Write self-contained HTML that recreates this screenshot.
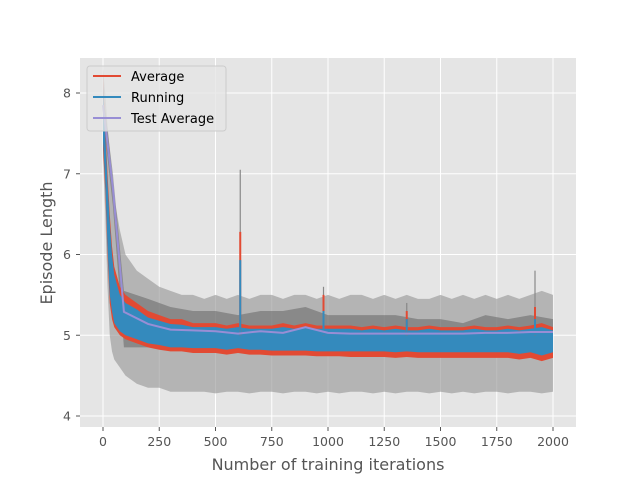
<!DOCTYPE html>
<html><head><meta charset="utf-8"><style>
body{margin:0;background:#fff;font-family:"Liberation Sans","DejaVu Sans",sans-serif}
svg text{font-family:"DejaVu Sans","Liberation Sans",sans-serif}
</style></head><body>
<svg id="chart" width="640" height="480" xmlns="http://www.w3.org/2000/svg">
<rect x="0" y="0" width="640" height="480" fill="#fff"/>
<rect x="80" y="58" width="496" height="369" fill="#e5e5e5"/>
<g id="grid"></g><g id="marks"></g><g id="axes"></g>
<g>
<rect x="87" y="66" width="139" height="65" rx="3" fill="#e5e5e5" fill-opacity="0.8" stroke="#ccc"/>
<line x1="93" y1="76" x2="121" y2="76" stroke="#E24A33" stroke-width="2"/>
<text x="131" y="81" font-size="13" fill="#000">Average</text>
<line x1="93" y1="97" x2="121" y2="97" stroke="#348ABD" stroke-width="2"/>
<text x="131" y="102" font-size="13" fill="#000">Running</text>
<line x1="93" y1="118" x2="121" y2="118" stroke="#988ED5" stroke-width="2"/>
<text x="131" y="123" font-size="13" fill="#000">Test Average</text>
</g>
<text x="328" y="470" font-size="16" fill="#555" text-anchor="middle">Number of training iterations</text>
<text x="52" y="243" font-size="16" fill="#555" text-anchor="middle" transform="rotate(-90 52 243)">Episode Length</text>
</svg>
<script>
const iters=[0,10,20,30,40,50,75,100,150,200,250,300,350,400,450,500,550,600,650,700,750,800,850,900,950,1000,1050,1100,1150,1200,1250,1300,1350,1400,1450,1500,1550,1600,1650,1700,1750,1800,1850,1900,1950,2000];
const greyHigh=[8.3,8.0,7.6,7.3,7.0,6.7,6.3,6.0,5.8,5.7,5.6,5.55,5.5,5.5,5.45,5.5,5.45,5.5,5.45,5.5,5.5,5.45,5.5,5.5,5.45,5.5,5.45,5.5,5.5,5.45,5.5,5.45,5.5,5.45,5.45,5.5,5.45,5.5,5.45,5.5,5.45,5.5,5.45,5.5,5.55,5.5];
const greyLow=[7.2,6.5,5.6,5.0,4.8,4.7,4.6,4.5,4.4,4.35,4.35,4.3,4.3,4.3,4.3,4.28,4.3,4.3,4.28,4.3,4.3,4.28,4.3,4.3,4.28,4.3,4.28,4.3,4.3,4.28,4.3,4.28,4.3,4.3,4.28,4.3,4.28,4.3,4.28,4.3,4.3,4.28,4.3,4.3,4.28,4.3];
const redHigh=[8.2,7.6,7.0,6.5,6.1,5.85,5.6,5.5,5.4,5.3,5.25,5.2,5.2,5.15,5.15,5.15,5.12,5.15,5.12,5.12,5.12,5.15,5.12,5.15,5.12,5.12,5.12,5.12,5.1,5.12,5.1,5.12,5.1,5.1,5.12,5.1,5.1,5.1,5.12,5.1,5.1,5.12,5.1,5.12,5.15,5.1];
const redLow=[7.3,6.8,6.0,5.4,5.2,5.1,5.0,4.95,4.9,4.85,4.82,4.8,4.8,4.78,4.78,4.78,4.76,4.78,4.76,4.76,4.75,4.75,4.75,4.75,4.74,4.74,4.74,4.73,4.73,4.73,4.73,4.72,4.73,4.72,4.72,4.72,4.72,4.72,4.72,4.72,4.72,4.72,4.7,4.72,4.68,4.72];
const blueHigh=[8.1,7.5,6.9,6.4,6.0,5.75,5.5,5.4,5.32,5.22,5.18,5.14,5.13,5.1,5.1,5.1,5.08,5.1,5.08,5.08,5.08,5.1,5.08,5.1,5.08,5.08,5.08,5.08,5.06,5.08,5.06,5.08,5.06,5.06,5.08,5.06,5.06,5.06,5.08,5.06,5.06,5.08,5.06,5.08,5.1,5.06];
const blueLow=[7.4,6.9,6.1,5.5,5.3,5.15,5.05,5.0,4.95,4.9,4.88,4.85,4.85,4.84,4.84,4.84,4.82,4.84,4.82,4.82,4.81,4.81,4.81,4.81,4.8,4.8,4.8,4.8,4.8,4.8,4.8,4.79,4.8,4.79,4.79,4.79,4.79,4.79,4.79,4.79,4.79,4.79,4.77,4.79,4.75,4.79];
const testIters=[0,44,93,200,300,400,500,600,700,800,900,1000,1100,1200,1300,1400,1500,1600,1700,1800,1900,2000];
const testAvg=[7.85,6.82,5.29,5.14,5.07,5.06,5.05,5.02,5.05,5.03,5.1,5.03,5.02,5.02,5.02,5.02,5.02,5.02,5.03,5.03,5.04,5.04];
const testHigh=[8.0,7.0,5.55,5.45,5.35,5.3,5.3,5.25,5.3,5.3,5.35,5.25,5.25,5.25,5.25,5.2,5.2,5.15,5.25,5.2,5.25,5.2];
const testLow=[7.7,6.6,4.85,4.85,4.85,4.88,4.88,4.88,4.9,4.88,4.9,4.88,4.88,4.9,4.9,4.9,4.9,4.88,4.88,4.88,4.88,4.9];
const spikeIters=[610,980,1350,1920];
const spikeGrey=[7.05,5.6,5.4,5.8];
const spikeRed=[6.28,5.5,5.3,5.35];
const spikeBlue=[5.93,5.3,5.2,5.2];
const xTicks=[0,250,500,750,1000,1250,1500,1750,2000];
const yTicks=[4,5,6,7,8];

const NS="http://www.w3.org/2000/svg";
const X=v=>103+v*0.225;
const Y=v=>416-(v-4)*80.75;
function mk(tag,attrs,parent){const e=document.createElementNS(NS,tag);for(const k in attrs)e.setAttribute(k,attrs[k]);parent.appendChild(e);return e;}
const grid=document.getElementById('grid'),marks=document.getElementById('marks'),axes=document.getElementById('axes');
xTicks.forEach(t=>{
  const l=mk('line',{x1:X(t),x2:X(t),y1:58,y2:427,stroke:'#fff','stroke-width':1},grid);
  
  
  mk('line',{x1:X(t),x2:X(t),y1:427,y2:431,stroke:'#555'},axes);
  const tx=mk('text',{x:X(t),y:446,'font-size':12.5,fill:'#555','text-anchor':'middle'},axes);
  tx.textContent=t;
  
  
});
yTicks.forEach(t=>{
  const l=mk('line',{x1:80,x2:576,y1:Y(t),y2:Y(t),stroke:'#fff','stroke-width':1},grid);
  
  
  mk('line',{x1:76,x2:80,y1:Y(t),y2:Y(t),stroke:'#555'},axes);
  const tx=mk('text',{x:71,y:Y(t)+4.5,'font-size':12.5,fill:'#555','text-anchor':'end'},axes);
  tx.textContent=t;
  
  
});
function band(xs,hi,lo,fill,op,name){
  let d='M'+xs.map((x,i)=>X(x)+','+Y(hi[i])).join('L');
  for(let i=xs.length-1;i>=0;i--)d+='L'+X(xs[i])+','+Y(lo[i]);
  const p=mk('path',{d:d+'Z',fill:fill,'fill-opacity':op},marks);
  
  
}
band(iters,greyHigh,greyLow,'#999',0.65,'run-range-band');
band(testIters,testHigh,testLow,'#555',0.45,'test-range-band');
band(iters,redHigh,redLow,'#E24A33',1,'average-series');
band(iters,blueHigh,blueLow,'#348ABD',1,'running-series');
spikeIters.forEach((s,i)=>{
  const base=5.0;
  const g=mk('line',{x1:X(s),x2:X(s),y1:Y(spikeGrey[i]),y2:Y(base),stroke:'#888','stroke-width':1.2},marks);
  
  
  const r=mk('line',{x1:X(s),x2:X(s),y1:Y(spikeRed[i]),y2:Y(base),stroke:'#E24A33','stroke-width':2},marks);
  
  
  const b=mk('line',{x1:X(s),x2:X(s),y1:Y(spikeBlue[i]),y2:Y(base),stroke:'#348ABD','stroke-width':2},marks);
  
  
});
const tl=mk('polyline',{points:testIters.map((x,i)=>X(x)+','+Y(testAvg[i])).join(' '),fill:'none',stroke:'#988ED5','stroke-width':2},marks);


</script>
</body></html>
